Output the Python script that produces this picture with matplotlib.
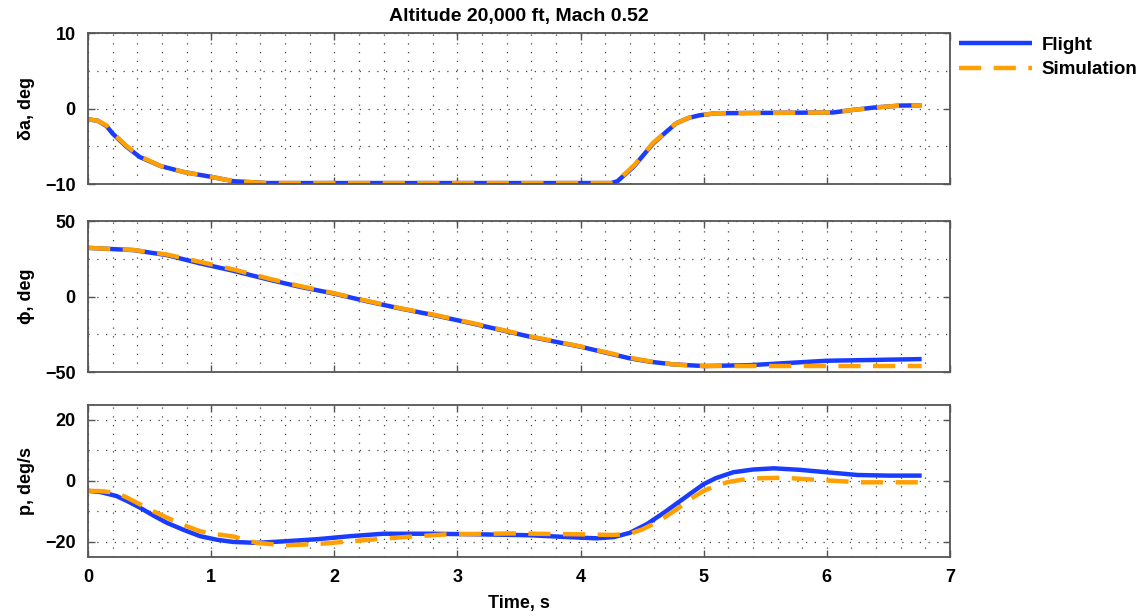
import matplotlib
matplotlib.use('Agg')
import matplotlib.pyplot as plt
from matplotlib.ticker import MultipleLocator

plt.rcParams['font.family'] = ['Liberation Sans', 'DejaVu Sans']
plt.rcParams['font.weight'] = 'bold'

# aileron deflection, deg
t_da = [0, 0.08, 0.15, 0.2, 0.31, 0.42, 0.59, 0.78, 0.99, 1.18, 1.45, 2.0, 3.0, 4.0, 4.25,
        4.3, 4.43, 4.59, 4.7, 4.78, 4.88, 4.97, 5.1, 5.5, 6.05, 6.19, 6.38, 6.6, 6.77]
da_flight = [-1.4, -1.6, -2.3, -3.3, -5.0, -6.4, -7.6, -8.4, -9.0, -9.6, -9.85, -9.85, -9.85,
             -9.85, -9.85, -9.6, -7.7, -4.6, -3.0, -1.9, -1.2, -0.86, -0.6, -0.55, -0.5, -0.2,
             0.15, 0.42, 0.45]
da_sim = [-1.4, -1.6, -2.2, -3.2, -4.9, -6.3, -7.6, -8.4, -9.0, -9.6, -9.85, -9.85, -9.85,
          -9.85, -9.85, -9.5, -7.6, -4.5, -3.0, -1.9, -1.2, -0.86, -0.6, -0.55, -0.5, -0.2,
          0.15, 0.42, 0.45]

# bank angle, deg
t_phi = [0, 0.37, 0.64, 0.91, 1.18, 1.45, 1.72, 1.99, 2.26, 2.53, 2.81, 3.18, 3.59,
         4.0, 4.4, 4.57, 4.75, 5.0, 5.38, 6.0, 6.77]
phi_flight = [32.3, 30.8, 27.5, 22.0, 17.1, 11.6, 6.5, 2.1, -3.0, -7.8, -12.3, -18.9, -26.6,
              -33.2, -40.9, -43.2, -44.9, -46.0, -45.4, -42.5, -41.4]
phi_sim = [32.3, 30.9, 27.9, 23.0, 18.0, 12.3, 7.0, 2.4, -2.7, -7.6, -12.0, -18.6, -26.3,
           -33.0, -40.5, -43.0, -44.9, -46.0, -46.0, -46.0, -46.0]

# roll rate, deg/s
t_pf = [0, 0.1, 0.23, 0.32, 0.42, 0.53, 0.64, 0.78, 0.91, 1.05, 1.18, 1.37, 1.59, 1.86, 2.13,
        2.4, 2.78, 3.18, 3.59, 4.0, 4.13, 4.27, 4.4, 4.54, 4.68, 4.81, 4.92, 5.0, 5.1, 5.24,
        5.4, 5.57, 5.78, 6.0, 6.25, 6.5, 6.77]
p_flight = [-3.3, -3.7, -5.0, -6.7, -8.8, -11.4, -13.8, -16.2, -18.2, -19.4, -20.1, -20.4,
            -19.9, -19.2, -18.2, -17.4, -17.4, -17.6, -17.9, -18.7, -18.9, -18.5, -17.1, -14.2,
            -10.4, -6.6, -3.4, -1.1, 0.9, 2.8, 3.7, 4.1, 3.6, 2.8, 1.9, 1.7, 1.7]
t_ps = [0, 0.1, 0.23, 0.32, 0.42, 0.53, 0.64, 0.78, 0.91, 1.05, 1.18, 1.37, 1.59, 1.86, 2.13,
        2.4, 2.64, 2.91, 3.45, 4.0, 4.27, 4.4, 4.5, 4.62, 4.78, 4.9, 5.0, 5.1, 5.19, 5.3, 5.43,
        5.65, 5.92, 6.1, 6.27, 6.5, 6.77]
p_sim = [-3.3, -3.4, -3.9, -5.6, -7.7, -10.0, -12.1, -14.6, -16.6, -17.6, -18.3, -20.4, -21.2,
         -20.8, -19.9, -19.0, -18.3, -17.6, -17.3, -17.6, -17.8, -17.4, -16.0, -13.6, -9.4,
         -5.8, -3.3, -1.6, -0.5, 0.3, 0.8, 1.0, 0.3, -0.1, -0.5, -0.5, -0.5]

blue = '#1a3cff'
orange = '#ffa000'

fig = plt.figure(figsize=(11.48, 6.16), dpi=100)
left, width = 0.0767, 0.7508
ax1 = fig.add_axes([left, 0.701, width, 0.245])
ax2 = fig.add_axes([left, 0.396, width, 0.245])
ax3 = fig.add_axes([left, 0.096, width, 0.247])

panels = [
    (ax1, t_da, da_flight, t_da, da_sim, (-10, 10), 10, 5, '\u03b4a, deg'),
    (ax2, t_phi, phi_flight, t_phi, phi_sim, (-50, 50), 50, 25, '\u03d5, deg'),
    (ax3, t_pf, p_flight, t_ps, p_sim, (-25, 25), 20, 10, 'p, deg/s'),
]

for ax, tf, yf, ts, ys, ylim, major, minor, label in panels:
    ax.plot(tf, yf, color=blue, lw=3.2, solid_capstyle='butt', label='Flight')
    ax.plot(ts, ys, color=orange, lw=3.2, dashes=(5, 2.8), label='Simulation')
    ax.set_xlim(0, 7)
    ax.set_ylim(*ylim)
    ax.xaxis.set_major_locator(MultipleLocator(1))
    ax.xaxis.set_minor_locator(MultipleLocator(0.2))
    ax.yaxis.set_major_locator(MultipleLocator(major))
    ax.yaxis.set_minor_locator(MultipleLocator(minor))
    ax.grid(True, which='both', color='#444444', linestyle=(0, (1, 6)), linewidth=0.9)
    ax.tick_params(which='major', direction='in', top=True, right=True, length=5,
                   width=1, color='#555555', labelsize=13, pad=9)
    ax.tick_params(which='minor', length=0)
    for s in ax.spines.values():
        s.set_color('#555555')
        s.set_linewidth(1.3)
    ax.set_ylabel(label, fontsize=13, fontweight='bold')
    ax.yaxis.set_label_coords(-0.062, 0.5)
    if ax is not ax3:
        ax.tick_params(labelbottom=False)

ax1.set_title('Altitude 20,000 ft, Mach 0.52', fontsize=14, fontweight='bold', pad=9)
ax3.set_xlabel('Time, s', fontsize=13, fontweight='bold', labelpad=6)

ax1.legend(loc='upper left', bbox_to_anchor=(1.0, 1.04), frameon=False, fontsize=13.5,
           handlelength=3.9, handletextpad=0.5, labelspacing=0.4, borderaxespad=0.1)

plt.savefig('out.png', dpi=100)
